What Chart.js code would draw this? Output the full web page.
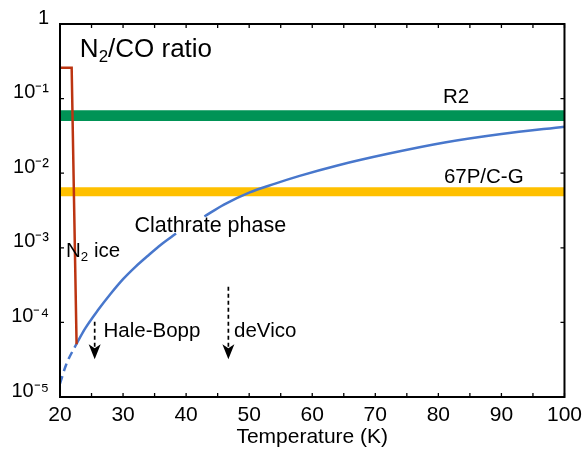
<!DOCTYPE html>
<html>
<head>
<meta charset="utf-8">
<script src="https://cdn.jsdelivr.net/npm/chart.js@4.4.1/dist/chart.umd.min.js"></script>
<style>
html,body{margin:0;padding:0;background:#fff;}
canvas{display:block;}
</style>
</head>
<body>
<canvas id="c" width="588" height="450"></canvas>
<script>
// ---- data ----
const xTicks = [20, 30, 40, 50, 60, 70, 80, 90, 100];
const yTickValues = [1e-5, 1e-4, 1e-3, 1e-2, 1e-1, 1];
const yTickLabels = ['10\u207B\u2075', '10\u207B\u2074', '10\u207B\u00B3', '10\u207B\u00B2', '10\u207B\u00B9', '1'];

// N2 ice (red)
const iceT = [20, 21.85, 22.63];
const iceRatio = [0.26, 0.26, 5.1e-5];

// clathrate curve (blue): dashed part, then two solid parts (gap for label)
const clathDashT = [20, 21, 22.6];
const clathDashRatio = [1.51e-5, 2.75e-5, 5.13e-5];
const clathSolid1T = [22.6, 24, 26, 28, 30, 32, 34, 36, 38.4];
const clathSolid1Ratio = [5.13e-5, 8.3e-5, 1.45e-4, 2.4e-4, 3.8e-4, 5.6e-4, 7.9e-4, 1.1e-3, 1.55e-3];
const clathSolid2T = [42.9, 46, 50, 54, 58, 64, 72, 81, 90, 100];
const clathSolid2Ratio = [2.63e-3, 3.8e-3, 5.5e-3, 7.2e-3, 9.2e-3, 0.0127, 0.0182, 0.0258, 0.0335, 0.042];

// observed bands
const bandT = [20, 100];
const r2Band = [0.05, 0.07];
const cgBand = [0.0049, 0.0065];

// comet upper limits (arrows): temperature, top, tip
const arrowT = [25.5, 46.7];
const arrowTop = [1.02e-4, 3.0e-4];
const arrowTip = [3.2e-5, 3.2e-5];

const pts = (xs, ys) => xs.map((x, i) => ({x: x, y: ys[i]}));

// ---- styles ----
const FONT = '"Liberation Sans", Arial, Helvetica, sans-serif';
const RED = '#BC3411';
const BLUE = '#4877CC';
const GREEN = '#009356';
const YELLOW = '#FFC000';

// text annotations (data coordinates)
const notes = [
  {x: 23.15, y: 0.361, size: 26, parts: [['N'], ['2', 1], ['/CO ratio']]},
  {x: 82.8, y: 0.0873, size: 20.5, align: 'center', parts: [['R2']]},
  {x: 87.2, y: 0.0074, size: 20.5, align: 'center', parts: [['67P/C-G']]},
  {x: 31.8, y: 1.63e-3, size: 21.5, parts: [['Clathrate phase']]},
  {x: 20.95, y: 7.5e-4, size: 20.5, parts: [['N'], ['2', 1], [' ice']]},
  {x: 26.9, y: 6.4e-5, size: 20.5, parts: [['Hale-Bopp']]},
  {x: 47.6, y: 6.4e-5, size: 20.5, parts: [['deVico']]}
];

const decor = {
  id: 'decor',
  afterDatasetsDraw(chart) {
    const {ctx, chartArea: a, scales: {x, y}} = chart;
    ctx.save();
    // arrows
    ctx.strokeStyle = '#000';
    ctx.fillStyle = '#000';
    arrowT.forEach((t, i) => {
      const px = x.getPixelForValue(t);
      const top = y.getPixelForValue(arrowTop[i]);
      const tip = y.getPixelForValue(arrowTip[i]);
      ctx.setLineDash([4, 3]);
      ctx.lineWidth = 1.7;
      ctx.beginPath();
      ctx.moveTo(px, top);
      ctx.lineTo(px, tip - 10);
      ctx.stroke();
      ctx.setLineDash([]);
      ctx.beginPath();
      ctx.moveTo(px, tip);
      ctx.lineTo(px - 6, tip - 15);
      ctx.lineTo(px, tip - 11);
      ctx.lineTo(px + 6, tip - 15);
      ctx.closePath();
      ctx.fill();
    });
    // text
    ctx.fillStyle = '#000';
    ctx.textBaseline = 'alphabetic';
    notes.forEach(n => {
      let px = x.getPixelForValue(n.x);
      const py = y.getPixelForValue(n.y);
      const widths = n.parts.map(p => {
        ctx.font = (p[1] ? n.size * 0.65 : n.size) + 'px ' + FONT;
        return ctx.measureText(p[0]).width;
      });
      const total = widths.reduce((s, w) => s + w, 0);
      if (n.align === 'center') px -= total / 2;
      ctx.textAlign = 'left';
      n.parts.forEach((p, i) => {
        ctx.font = (p[1] ? n.size * 0.65 : n.size) + 'px ' + FONT;
        ctx.fillText(p[0], px, py + (p[1] ? n.size * 0.2 : 0));
        px += widths[i];
      });
    });
    // frame
    ctx.strokeStyle = '#000';
    ctx.lineWidth = 2;
    ctx.strokeRect(a.left, a.top, a.right - a.left, a.bottom - a.top);
    // inward ticks
    ctx.lineWidth = 1.3;
    ctx.beginPath();
    for (let t = 20; t <= 100; t += 5) {
      const px = x.getPixelForValue(t);
      ctx.moveTo(px, a.bottom); ctx.lineTo(px, a.bottom - 4);
      ctx.moveTo(px, a.top); ctx.lineTo(px, a.top + 4);
    }
    yTickValues.forEach(v => {
      const py = y.getPixelForValue(v);
      ctx.moveTo(a.left, py); ctx.lineTo(a.left + 4, py);
      ctx.moveTo(a.right, py); ctx.lineTo(a.right - 4, py);
    });
    ctx.stroke();
    ctx.restore();
  }
};

new Chart(document.getElementById('c'), {
  type: 'line',
  data: {
    datasets: [
      {data: pts(iceT, iceRatio), borderColor: RED, borderWidth: 2.5, pointRadius: 0, tension: 0, fill: false},
      {data: pts(clathDashT, clathDashRatio), borderColor: BLUE, borderWidth: 2.5, borderDash: [8, 5], pointRadius: 0, cubicInterpolationMode: 'monotone', fill: false},
      {data: pts(clathSolid1T, clathSolid1Ratio), borderColor: BLUE, borderWidth: 2.5, pointRadius: 0, cubicInterpolationMode: 'monotone', fill: false},
      {data: pts(clathSolid2T, clathSolid2Ratio), borderColor: BLUE, borderWidth: 2.5, pointRadius: 0, cubicInterpolationMode: 'monotone', fill: false},
      {data: pts(bandT, [r2Band[1], r2Band[1]]), borderWidth: 0, pointRadius: 0, backgroundColor: GREEN, borderColor: GREEN, fill: {value: r2Band[0]}},
      {data: pts(bandT, [cgBand[1], cgBand[1]]), borderWidth: 0, pointRadius: 0, backgroundColor: YELLOW, borderColor: YELLOW, fill: {value: cgBand[0]}}
    ]
  },
  options: {
    responsive: false,
    animation: false,
    devicePixelRatio: 1,
    layout: {padding: {top: 24, right: 21, left: 0, bottom: 0}},
    plugins: {legend: {display: false}, tooltip: {enabled: false}},
    scales: {
      x: {
        type: 'linear', min: 20, max: 100,
        afterBuildTicks: s => { s.ticks = xTicks.map(v => ({value: v})); },
        afterFit: s => { s.height = 53; },
        grid: {display: false, drawTicks: false},
        border: {display: false},
        ticks: {color: '#000', font: {family: FONT, size: 21}, padding: 6, maxRotation: 0, autoSkip: false},
        title: {display: true, text: 'Temperature (K)', color: '#000', font: {family: FONT, size: 21}, padding: {top: 0, bottom: 0}}
      },
      y: {
        type: 'logarithmic', min: 1e-5, max: 1,
        afterBuildTicks: s => { s.ticks = yTickValues.map(v => ({value: v})); },
        afterFit: s => { s.width = 60; },
        grid: {display: false, drawTicks: false},
        border: {display: false},
        ticks: {
          color: '#000', font: {family: FONT, size: 20}, padding: 11, labelOffset: -6, autoSkip: false,
          callback: v => yTickLabels[yTickValues.findIndex(t => Math.abs(Math.log10(t) - Math.log10(v)) < 1e-6)]
        }
      }
    }
  },
  plugins: [decor]
});
</script>
</body>
</html>
